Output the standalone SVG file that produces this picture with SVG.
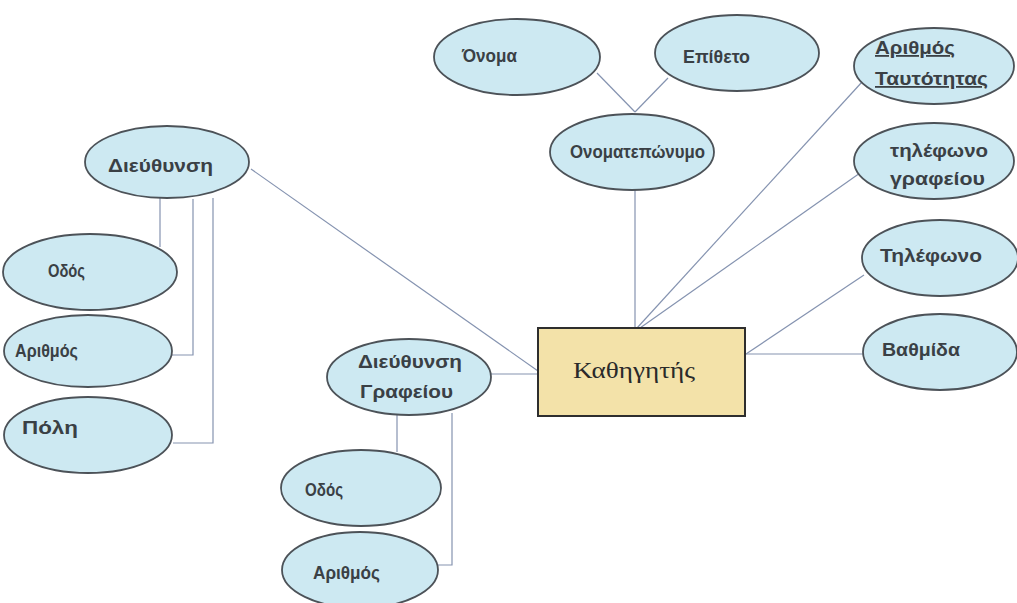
<svg xmlns="http://www.w3.org/2000/svg" width="1017" height="603" viewBox="0 0 1017 603">
  <style>
    .attr { fill: #cde9f2; stroke: #4c5258; stroke-width: 1.8; }
    .ent { fill: #f3e2a9; stroke: #2e2e2e; stroke-width: 2; }
    .lbl { font-family: "Liberation Sans", Arial, sans-serif; font-size: 18px; font-weight: bold; fill: #3a4045; }
    .title { font-family: "Liberation Serif", "Times New Roman", serif; font-size: 23px; fill: #2a2a2a; }
    .conn { fill: none; stroke: #8593b0; stroke-width: 1.2; }
  </style>
  <rect width="1017" height="603" fill="#ffffff"/>

  <!-- connectors -->
  <g id="connectors" class="conn">
    <line x1="597" y1="73" x2="635" y2="112"/>
    <line x1="668" y1="78" x2="635" y2="112"/>
    <line x1="635" y1="190" x2="635" y2="328"/>
    <line x1="862" y1="82" x2="637" y2="328"/>
    <line x1="860" y1="173" x2="640" y2="328"/>
    <line x1="864" y1="275" x2="746" y2="354"/>
    <line x1="746" y1="354" x2="863" y2="354"/>
    <line x1="251" y1="169" x2="538" y2="371"/>
    <line x1="491" y1="374" x2="538" y2="374"/>
    <polyline points="160,198 160,247"/>
    <polyline points="193,199 193,355 172,355"/>
    <polyline points="213,198 213,443 173,443"/>
    <polyline points="397,415 397,452"/>
    <polyline points="452,413 452,565 438,565"/>
  </g>

  <!-- entity -->
  <g id="kathigitis">
    <rect class="ent" x="538" y="328" width="207" height="88"/>
    <text class="title" x="634" y="378" text-anchor="middle" textLength="122" lengthAdjust="spacingAndGlyphs">Καθηγητής</text>
  </g>

  <!-- attributes -->
  <g id="onoma">
    <ellipse class="attr" cx="517" cy="57" rx="83" ry="38"/>
    <text class="lbl" x="462" y="62" textLength="55" lengthAdjust="spacingAndGlyphs">Όνομα</text>
  </g>
  <g id="epitheto">
    <ellipse class="attr" cx="737" cy="53" rx="82" ry="38"/>
    <text class="lbl" x="683" y="63" textLength="67" lengthAdjust="spacingAndGlyphs">Επίθετο</text>
  </g>
  <g id="onomateponymo">
    <ellipse class="attr" cx="632" cy="152" rx="82" ry="38"/>
    <text class="lbl" x="570" y="158" textLength="135" lengthAdjust="spacingAndGlyphs">Ονοματεπώνυμο</text>
  </g>
  <g id="arithmos-taftotitas">
    <ellipse class="attr" cx="934" cy="66" rx="80" ry="38"/>
    <text class="lbl" x="875" y="54" textLength="80" lengthAdjust="spacingAndGlyphs" text-decoration="underline">Αριθμός</text>
    <text class="lbl" x="875" y="85" textLength="113" lengthAdjust="spacingAndGlyphs" text-decoration="underline">Ταυτότητας</text>
  </g>
  <g id="tilefono-grafeiou">
    <ellipse class="attr" cx="934" cy="161" rx="80" ry="38"/>
    <text class="lbl" x="890" y="157" textLength="98" lengthAdjust="spacingAndGlyphs">τηλέφωνο</text>
    <text class="lbl" x="890" y="185" textLength="95" lengthAdjust="spacingAndGlyphs">γραφείου</text>
  </g>
  <g id="tilefono">
    <ellipse class="attr" cx="940" cy="258" rx="78" ry="38"/>
    <text class="lbl" x="880" y="262" textLength="102" lengthAdjust="spacingAndGlyphs">Τηλέφωνο</text>
  </g>
  <g id="vathmida">
    <ellipse class="attr" cx="940" cy="352" rx="77" ry="38"/>
    <text class="lbl" x="882" y="356" textLength="78" lengthAdjust="spacingAndGlyphs">Βαθμίδα</text>
  </g>
  <g id="dieuthynsi">
    <ellipse class="attr" cx="167" cy="162" rx="82" ry="36"/>
    <text class="lbl" x="108" y="172" textLength="105" lengthAdjust="spacingAndGlyphs">Διεύθυνση</text>
  </g>
  <g id="odos">
    <ellipse class="attr" cx="90" cy="272" rx="87" ry="38"/>
    <text class="lbl" x="48" y="277" textLength="37" lengthAdjust="spacingAndGlyphs">Οδός</text>
  </g>
  <g id="arithmos">
    <ellipse class="attr" cx="88" cy="351" rx="84" ry="36"/>
    <text class="lbl" x="15" y="357" textLength="63" lengthAdjust="spacingAndGlyphs">Αριθμός</text>
  </g>
  <g id="poli">
    <ellipse class="attr" cx="88" cy="435" rx="84" ry="38"/>
    <text class="lbl" x="22" y="434" textLength="56" lengthAdjust="spacingAndGlyphs">Πόλη</text>
  </g>
  <g id="dieuthynsi-grafeiou">
    <ellipse class="attr" cx="409" cy="377" rx="82" ry="38"/>
    <text class="lbl" x="358" y="368" textLength="104" lengthAdjust="spacingAndGlyphs">Διεύθυνση</text>
    <text class="lbl" x="360" y="398" textLength="93" lengthAdjust="spacingAndGlyphs">Γραφείου</text>
  </g>
  <g id="odos-grafeiou">
    <ellipse class="attr" cx="361" cy="488" rx="80" ry="38"/>
    <text class="lbl" x="305" y="496" textLength="38" lengthAdjust="spacingAndGlyphs">Οδός</text>
  </g>
  <g id="arithmos-grafeiou">
    <ellipse class="attr" cx="360" cy="570" rx="78" ry="38"/>
    <text class="lbl" x="313" y="579" textLength="67" lengthAdjust="spacingAndGlyphs">Αριθμός</text>
  </g>
</svg>
